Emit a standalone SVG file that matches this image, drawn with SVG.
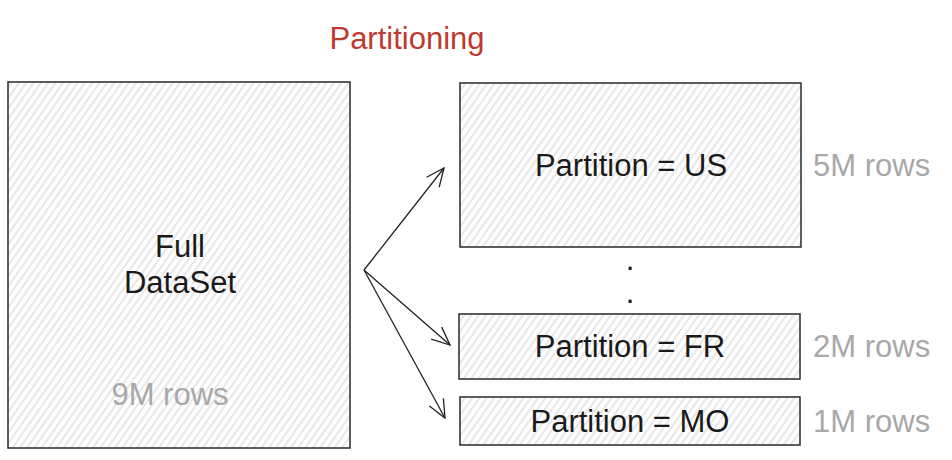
<svg xmlns="http://www.w3.org/2000/svg" width="952" height="460" viewBox="0 0 952 460">
<style>
.box{fill:url(#hatch);stroke:#2a2a2a;stroke-width:1.5}
.lbl{font-family:"Liberation Sans",Arial,sans-serif;font-size:31px;fill:#1a1a1a;text-anchor:middle}
.rows{font-family:"Liberation Sans",Arial,sans-serif;font-size:31px;fill:#a8a8a8}
.title{font-family:"Liberation Sans",Arial,sans-serif;font-size:31px;fill:#c0392f;text-anchor:middle}
.conn{stroke:#222;stroke-width:1.3;fill:none;marker-end:url(#arr)}
</style>
<defs>
<pattern id="hatch" width="6" height="6" patternUnits="userSpaceOnUse" patternTransform="rotate(35)">
<rect width="6" height="6" fill="#fff"/>
<line x1="3" y1="0" x2="3" y2="6" stroke="#cfcfcf" stroke-width="1"/>
</pattern>
<marker id="arr" viewBox="0 0 20 20" refX="19" refY="10" markerWidth="20" markerHeight="20" markerUnits="userSpaceOnUse" orient="auto">
<path d="M1,2 L19,10 L1,18" fill="none" stroke="#222" stroke-width="1.3"/>
</marker>
</defs>
<text class="title" x="407" y="49">Partitioning</text>
<g id="full">
<rect class="box" x="8" y="82" width="342" height="366"/>
<text class="lbl" x="180" y="257">Full</text>
<text class="lbl" x="180" y="293">DataSet</text>
<text class="rows" x="170" y="405" text-anchor="middle">9M rows</text>
</g>
<g id="us">
<rect class="box" x="460" y="83" width="341" height="164"/>
<text class="lbl" x="631" y="176">Partition = US</text>
<text class="rows" x="813" y="176">5M rows</text>
</g>
<g id="dots">
<text class="lbl" x="630" y="270">.</text>
<text class="lbl" x="630" y="303">.</text>
</g>
<g id="fr">
<rect class="box" x="459" y="314" width="341" height="65"/>
<text class="lbl" x="630" y="357">Partition = FR</text>
<text class="rows" x="813" y="357">2M rows</text>
</g>
<g id="mo">
<rect class="box" x="460" y="397" width="340" height="48"/>
<text class="lbl" x="630" y="432">Partition = MO</text>
<text class="rows" x="813" y="432">1M rows</text>
</g>
<g id="connectors">
<line class="conn" x1="364" y1="270" x2="444" y2="168"/>
<line class="conn" x1="364" y1="270" x2="450" y2="345"/>
<line class="conn" x1="364" y1="270" x2="445" y2="418"/>
</g>
</svg>
